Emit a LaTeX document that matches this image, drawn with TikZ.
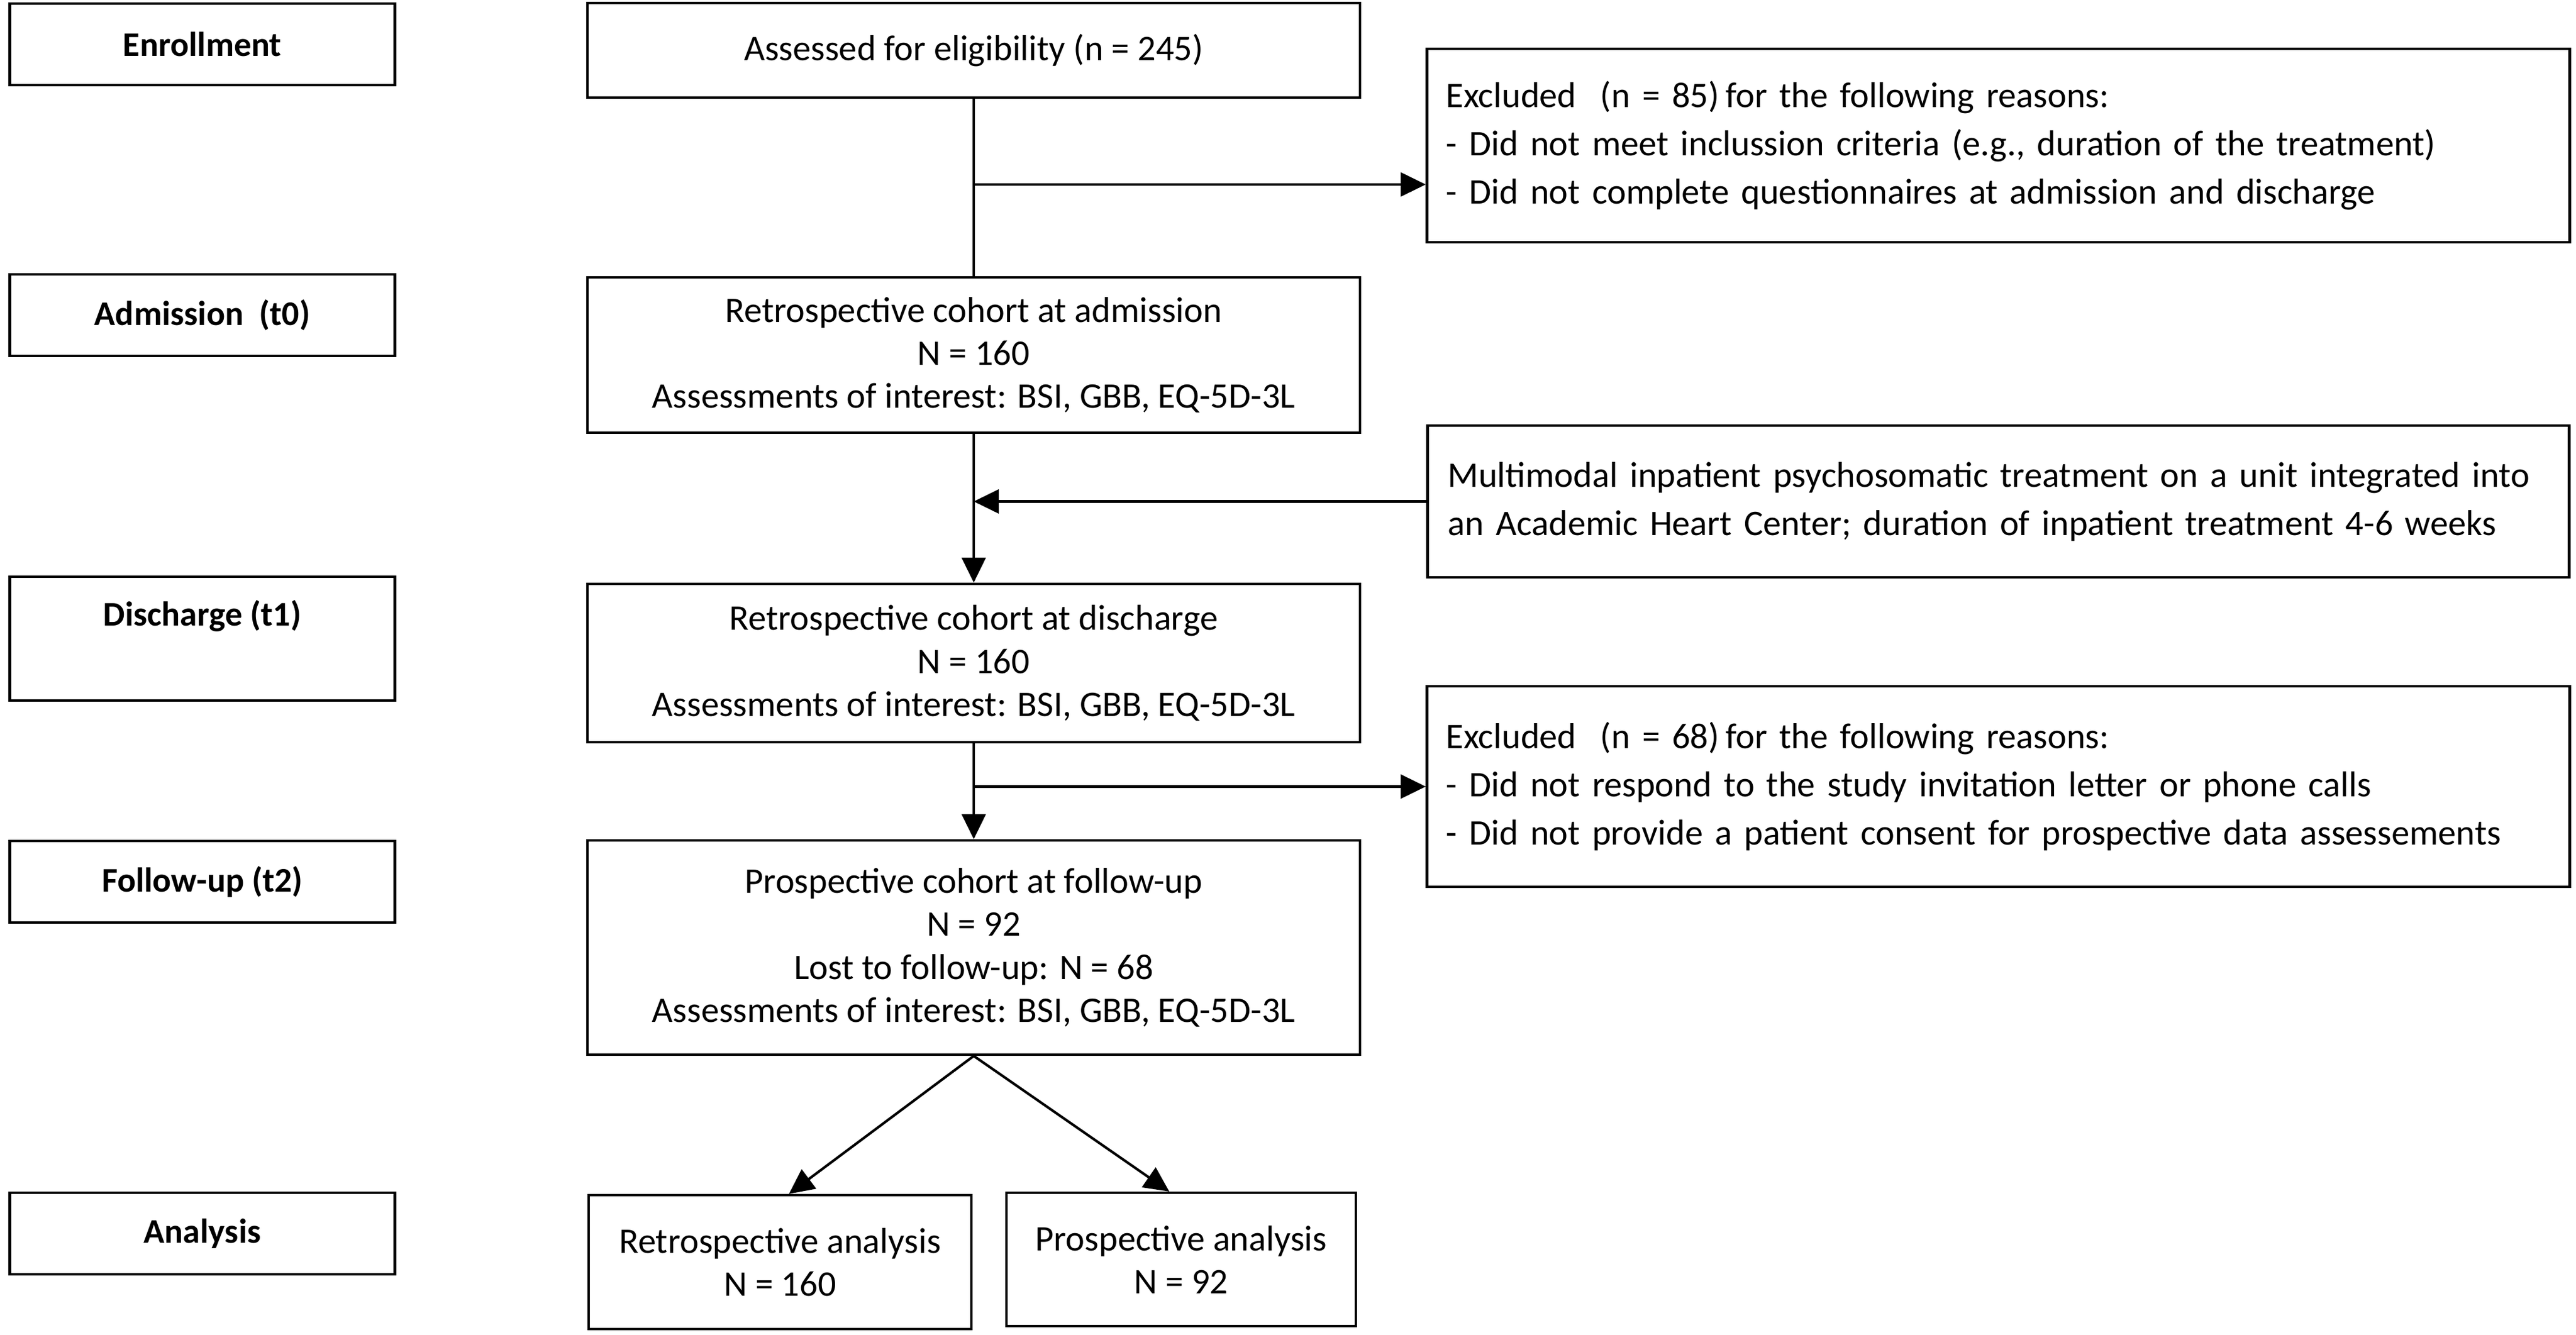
\documentclass[tikz,border=0pt]{standalone}
\usepackage{fontspec}
\setmainfont{Carlito}
\usetikzlibrary{positioning,arrows.meta,calc}

\tikzset{
  box/.style={draw, rectangle, line width=1.2pt, inner sep=0pt, align=center,
    font=\fontsize{17.2}{20.5}\selectfont},
  stage/.style={box, minimum width=6.47cm, minimum height=1.37cm,
    font=\fontsize{16.5}{20}\selectfont\bfseries},
  cohort/.style={box, minimum width=12.98cm},
  note/.style={box, align=left, inner xsep=0.32cm, text width=18.56cm,
    font=\fontsize{17.2}{23}\selectfont},
  flow/.style={-{Triangle[length=4.2mm,width=4mm]}, line width=1.2pt},
  link/.style={line width=1.2pt},
}

\begin{document}
\begin{tikzpicture}[node distance=5cm]
    \useasboundingbox (0,0) rectangle (43.28,-22.42);

    % stages on the left
    \node (enroll) [stage] at (3.40,-0.745) {Enrollment};
    \node (admit) [stage, below of=enroll, node distance=4.55cm] {Admission~~(t0)};
    \node (disch) [stage, below of=admit, node distance=5.435cm, minimum height=0pt,
        text height=0.82cm, text depth=1.26cm] {Discharge (t1)};
    \node (follow) [stage, below of=disch, node distance=4.085cm] {Follow-up (t2)};
    \node (analys) [stage, below of=follow, node distance=5.91cm] {Analysis};

    % cohorts in the middle
    \node (assessed) [cohort, minimum height=1.59cm] at (16.36,-0.845) {Assessed for eligibility (n = 245)};
    \node (retroadm) [cohort, below of=assessed, node distance=5.12cm, minimum height=2.61cm]
        {Retrospective cohort at admission\\ N = 160\\ Assessments of interest: BSI, GBB, EQ-5D-3L};
    \node (retrodis) [cohort, below of=retroadm, node distance=5.175cm, minimum height=2.66cm]
        {Retrospective cohort at discharge\\ N = 160\\ Assessments of interest: BSI, GBB, EQ-5D-3L};
    \node (prospfu) [cohort, below of=retrodis, node distance=4.78cm, minimum height=3.60cm]
        {Prospective cohort at follow-up\\ N = 92\\ Lost to follow-up: N = 68\\ Assessments of interest: BSI, GBB, EQ-5D-3L};
    \node (retroana) [box, minimum width=6.43cm, minimum height=2.25cm] at (13.105,-21.205)
        {Retrospective analysis\\ N = 160};
    \node (prospana) [box, minimum width=5.87cm, minimum height=2.24cm] at (19.845,-21.16)
        {Prospective analysis\\ N = 92};

    % notes on the right
    \node (excl1) [note, minimum height=3.25cm] at (33.575,-2.445)
        {Excluded~~(n = 85)\,for the following reasons:\\
         - Did not meet inclussion criteria (e.g., duration of the treatment)\\
         - Did not complete questionnaires at admission and discharge};
    \node (multi) [note, below of=excl1, node distance=5.98cm, minimum height=2.55cm,
        inner xsep=0.34cm, text width=18.5cm]
        {Multimodal inpatient psychosomatic treatment on a unit integrated into\\
         an Academic Heart Center; duration of inpatient treatment 4-6 weeks};
    \node (excl2) [note, below of=multi, node distance=4.79cm, minimum height=3.37cm]
        {Excluded~~(n = 68)\,for the following reasons:\\
         - Did not respond to the study invitation letter or phone calls\\
         - Did not provide a patient consent for prospective data assessements};

    \coordinate (split1) at ($(assessed.south)!0.483!(retroadm.north)$);

    \draw[link] (assessed.south) -- (retroadm.north);
    \draw[flow] (split1) -- (split1 -| excl1.west);
    \draw[flow] (retroadm.south) -- (retrodis.north);
    \draw[flow] (multi.west) -- (multi.west -| retroadm.south);
    \draw[flow] (retrodis.south) -- (prospfu.north);
    \draw[flow] (excl2.west -| retrodis.south) -- (excl2.west);
    \draw[flow] (prospfu.south) -- ([xshift=1.5mm]retroana.north);
    \draw[flow] (prospfu.south) -- ([xshift=-2mm]prospana.north);
\end{tikzpicture}
\end{document}
